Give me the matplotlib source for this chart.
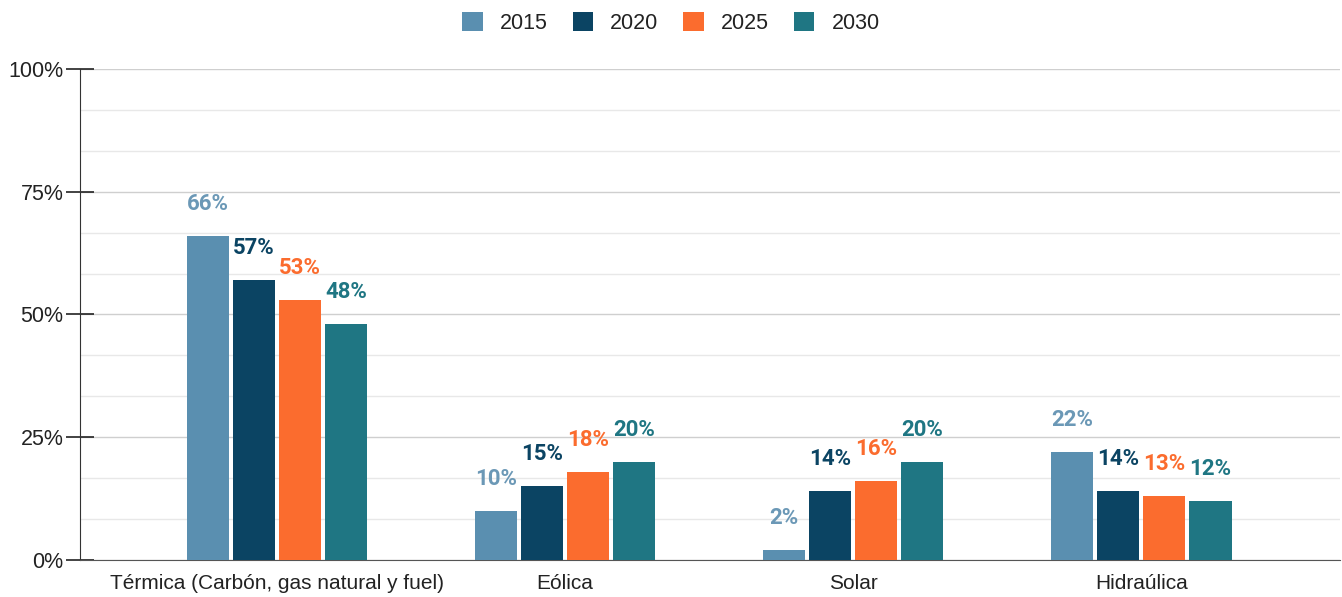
import numpy as np
import matplotlib
matplotlib.use("Agg")
import matplotlib.pyplot as plt
from matplotlib.ticker import MultipleLocator, FuncFormatter

categories = ["Térmica (Carbón, gas natural y fuel)", "Eólica", "Solar", "Hidraúlica"]
years = ["2015", "2020", "2025", "2030"]
v2015 = [66, 10, 2, 22]
v2020 = [57, 15, 14, 14]
v2025 = [53, 18, 16, 13]
v2030 = [48, 20, 20, 12]

series = [v2015, v2020, v2025, v2030]
colors = ["#5a8fb0", "#0b4463", "#fb6c2e", "#1f7683"]
label_colors = ["#6b98b6", "#0b4463", "#fb6c2e", "#1f7683"]

plt.rcParams['font.family'] = ['Liberation Sans', 'DejaVu Sans']

fig = plt.figure(figsize=(13.42, 5.97), dpi=100)
ax = fig.add_axes([0.0596, 0.062, 0.939, 0.8224])

x = np.arange(len(categories))
width = 0.146
step = 0.16
for i, (vals, c) in enumerate(zip(series, colors)):
    pos = x + (i - 1.5) * step
    ax.bar(pos, vals, width=width, color=c, label=years[i], zorder=3)
    for p, v in zip(pos, vals):
        ax.annotate(f"{v}%", (p, v), xytext=(0, 23), textcoords="offset points",
                    ha="center", va="center", fontsize=16, fontweight="bold",
                    color=label_colors[i], family="Roboto")

ax.set_xlim(-0.684, 3.69)
ax.set_ylim(0, 100)
ax.yaxis.set_major_locator(MultipleLocator(25))
ax.yaxis.set_minor_locator(MultipleLocator(25 / 3))
ax.yaxis.set_major_formatter(FuncFormatter(lambda v, _: f"{v:.0f}%"))
ax.grid(axis="y", which="major", color="#cfcfcf", linewidth=1.0, zorder=0)
ax.grid(axis="y", which="minor", color="#e8e8e8", linewidth=1.0, zorder=0)
ax.tick_params(axis="y", which="major", direction="inout", length=20, width=1.2,
               labelsize=15.5, colors="#222222", pad=2)
ax.tick_params(axis="y", which="minor", length=0)
ax.tick_params(axis="x", length=0, labelsize=15, pad=10, colors="#222222")
ax.set_xticks(x)
ax.set_xticklabels(categories)

for s in ["top", "right"]:
    ax.spines[s].set_visible(False)
ax.spines["left"].set_color("#333333")
ax.spines["bottom"].set_color("#555555")

leg = fig.legend(loc="upper center", bbox_to_anchor=(0.5, 1.012), ncol=4, frameon=False,
                 fontsize=15.5, handlelength=0.95, handleheight=0.95, columnspacing=1.15,
                 handletextpad=0.8)
for t in leg.get_texts():
    t.set_color("#222222")

fig.savefig("out.png", dpi=100)
